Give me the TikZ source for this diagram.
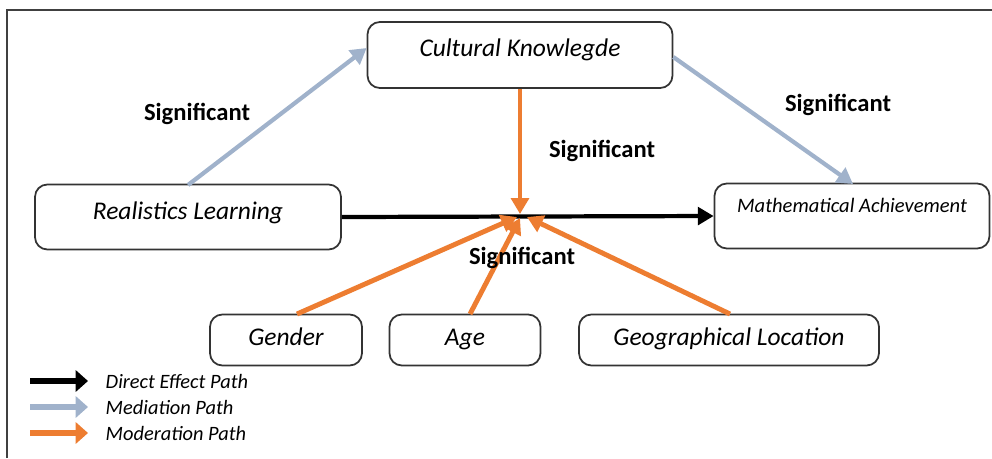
\documentclass[tikz,border=0pt]{standalone}
\usepackage{fontspec}
\setmainfont{Carlito}
\usepackage{tikz}
\usetikzlibrary{arrows.meta}
\definecolor{medblue}{RGB}{160,178,203}
\definecolor{modorange}{RGB}{237,125,49}
\tikzset{
  caixa/.style={draw=black!80, line width=1pt, rounded corners=7pt, fill=white, font=\fontsize{14.5}{16}\selectfont\itshape, inner sep=0pt},
  caixinha/.style={caixa, minimum height=1.02cm, text height=0.3cm, text depth=0.1cm},
  signif/.style={font=\fontsize{14}{16}\selectfont\bfseries},
  legenda/.style={font=\fontsize{11.6}{13}\selectfont\itshape, anchor=west},
  direto/.style={line width=2.4pt, black, -{Triangle[length=9pt,width=10pt]}},
  mediacao/.style={line width=2.4pt, medblue, -{Triangle[length=9pt,width=10pt]}},
  moderacao/.style={line width=2.8pt, modorange, -{Triangle[length=9pt,width=10pt]}}
}
\begin{document}
\begin{tikzpicture}[x=0.02cm, y=-0.02cm]
		\useasboundingbox (0,0) rectangle (992,458);
		% a moldura (so em cima e a esquerda)
			\draw[line width=1.3pt, black!75] (7,458) -- (7,10) -- (992,10);

		% as caixas
			\node[caixa, minimum width=6.1cm, minimum height=1.32cm, text height=0.3cm, text depth=0.25cm] (cult) at (520,55) {Cultural Knowlegde};
			\node[caixa, minimum width=6.12cm, minimum height=1.3cm, text height=0.3cm, text depth=0.2cm] (real) at (188,217) {Realistics Learning};
			\node[caixa, minimum width=5.5cm, minimum height=1.3cm, font=\fontsize{11.7}{13}\selectfont\itshape, text height=0.25cm, text depth=0.38cm] (math) at (852,216) {Mathematical Achievement};
			\node[caixinha, minimum width=3.04cm] (gen) at (286,340) {Gender};
			\node[caixinha, minimum width=3.02cm] (age) at (465,340) {Age};
			\node[caixinha, minimum width=6cm] (geo) at (729,340) {Geographical Location};
			\coordinate (junc) at (520,214);

		% os caminhos
			\draw[direto] (real.east) -- (math.west);
			\draw[mediacao] (188,185) -- (cult.west |- 0,48);
			\draw[mediacao] (cult.east |- 0,57) -- (853,184);
			\draw[moderacao] (cult.south) -- (junc);
			\draw[moderacao] (297,314) -- ([xshift=-0.06cm,yshift=-0.06cm]junc);
			\draw[moderacao] (470,314) -- ([yshift=-0.08cm]junc);
			\draw[moderacao] (730,314) -- ([xshift=0.14cm,yshift=-0.06cm]junc);

		% os rotulos
			\node[signif] (s1) at (197,114) {Significant};
			\node[signif] (s2) at (838,105) {Significant};
			\node[signif] (s3) at (602,151) {Significant};
			\node[signif] (s4) at (522,258) {Significant};

		% a legenda
			\coordinate (la) at (30,381);
			\coordinate (lb) at (30,407);
			\coordinate (lc) at (30,433);
			\draw[direto, line width=3.5pt, -{Triangle[length=7pt,width=12pt]}] (la) -- ++(58,0) node[legenda, black, xshift=5pt] (l1) {Direct Effect Path};
			\draw[mediacao, line width=3.5pt, -{Triangle[length=7pt,width=12pt]}] (lb) -- ++(58,0) node[legenda, black, xshift=5pt] (l2) {Mediation Path};
			\draw[moderacao, line width=3.5pt, -{Triangle[length=7pt,width=12pt]}] (lc) -- ++(58,0) node[legenda, black, xshift=5pt] (l3) {Moderation Path};
	\end{tikzpicture}
\end{document}
